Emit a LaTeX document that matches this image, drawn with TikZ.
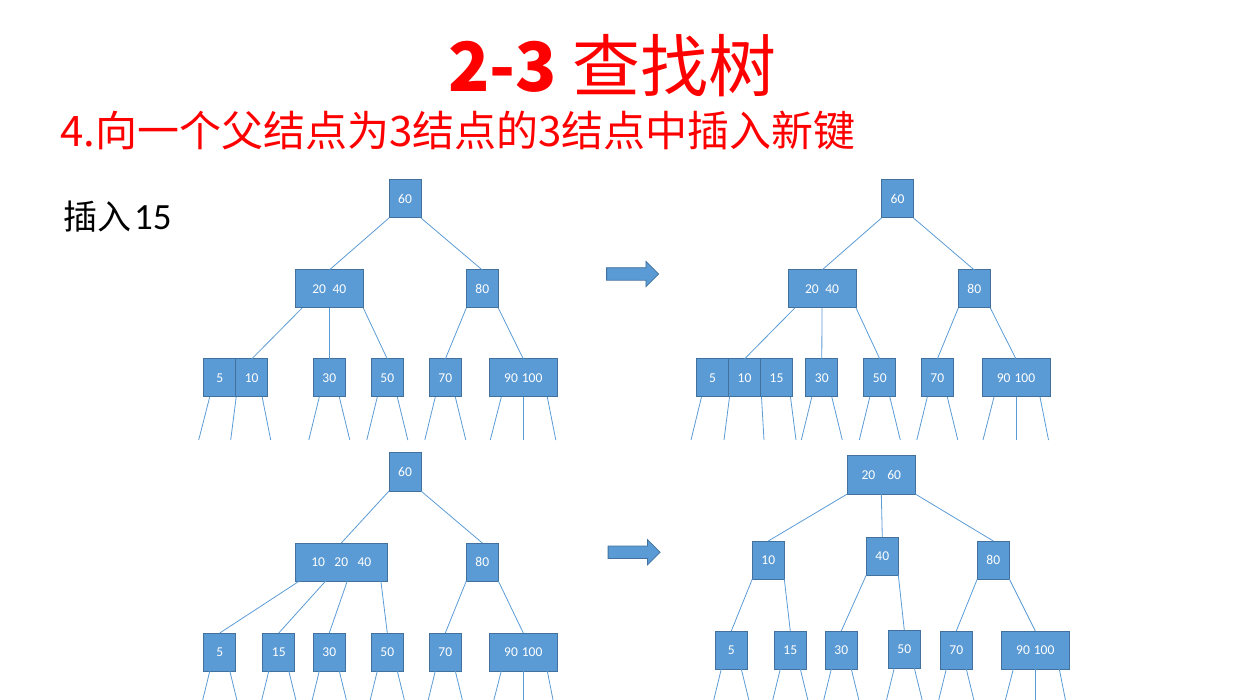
\documentclass[tikz,border=0pt]{standalone}
\usepackage{fontspec}
\setmainfont{Carlito}
\newfontfamily\cjkfont{Noto Sans CJK SC}
\usetikzlibrary{positioning, calc, shapes.arrows}
\definecolor{keyBlue}{HTML}{5B9BD5}
\definecolor{keyEdge}{HTML}{41719C}
\definecolor{titleRed}{HTML}{FF0000}
\newcommand{\stub}[3]{\draw[link] ($(#1.south)+(#2,0)$) -- ++(#3,43);}

\begin{document}
\begin{tikzpicture}[
  x=1pt, y=-1pt,
  every node/.style={font=\fontsize{13.5}{15}\selectfont},
  keybox/.style={
    rectangle, draw=keyEdge, line width=1pt,
    fill=keyBlue, text=white,
    minimum width=#1, minimum height=38pt,
    inner sep=0pt, outer sep=0pt
  },
  keybox/.default=32pt,
  link/.style={draw=keyBlue, line width=0.8pt},
  fatarrow/.style={
    single arrow, draw=keyEdge, fill=keyBlue, line width=0.8pt,
    minimum height=52pt, inner xsep=0pt, inner ysep=5.85pt,
    single arrow head extend=6.45pt, single arrow tip angle=90
  },
]
\useasboundingbox (0,0) rectangle (1248,700);
\clip (0,0) rectangle (1248,700);

% Titles
\node[anchor=base west, inner sep=0pt, text=titleRed,
  font=\fontsize{68}{80}\selectfont\cjkfont] (title) at (448,92) {{\bfseries 2-3} 查找树};
\node[anchor=base west, inner sep=0pt, text=titleRed,
  font=\fontsize{42}{50}\selectfont\cjkfont] (subtitle) at (60,147) {4.向一个父结点为3结点的3结点中插入新键};
\node[anchor=base west, inner sep=0pt,
  font=\fontsize{34}{40}\selectfont] (insertlabel) at (63,229.5) {{\cjkfont 插入}\hspace{3pt}{\fontsize{37}{40}\selectfont 15}};

% Tree A: before insert
\node[keybox] (a60) at (405,199) {60};
\node[keybox=68pt] (a2040) at (329.3,289) {20\hspace{6.5pt}40};
\node[keybox] (a80) at (482.3,289) {80};
\node[keybox] (a5) at (219.7,378) {5};
\node[keybox, right=0pt of a5] (a10) {10};
\node[keybox] (a30) at (329.3,378) {30};
\node[keybox] (a50) at (387.3,378) {50};
\node[keybox] (a70) at (445.3,378) {70};
\node[keybox=68pt] (a90) at (523.3,378) {90\hspace{4pt}100};

% Tree B: 15 joins the leaf
\node[keybox] (b60) at (897.5,199) {60};
\node[keybox=68pt] (b2040) at (822,289) {20\hspace{6.5pt}40};
\node[keybox] (b80) at (974.3,289) {80};
\node[keybox] (b5) at (712.5,378) {5};
\node[keybox, right=0pt of b5] (b10) {10};
\node[keybox, right=0pt of b10] (b15) {15};
\node[keybox] (b30) at (821.8,378) {30};
\node[keybox] (b50) at (879.8,378) {50};
\node[keybox] (b70) at (937.3,378) {70};
\node[keybox=68pt] (b90) at (1016,378) {90\hspace{4pt}100};

% Tree C: 10 moves up
\node[keybox] (c60) at (405,472) {60};
\node[keybox=92pt] (c1020) at (341.3,562) {10\hspace{9.5pt}20\hspace{9.5pt}40};
\node[keybox] (c80) at (482.3,562) {80};
\node[keybox] (c5) at (219.8,652) {5};
\node[keybox] (c15) at (278.8,652) {15};
\node[keybox] (c30) at (329.3,652) {30};
\node[keybox] (c50) at (387.3,652) {50};
\node[keybox] (c70) at (445.3,652) {70};
\node[keybox=68pt] (c90) at (523.3,652) {90\hspace{4pt}100};

% Tree D: 20 moves up
\node[keybox=68pt] (d2060) at (881.3,475) {20\hspace{12pt}60};
\node[keybox] (d10) at (768.3,560) {10};
\node[keybox] (d40) at (882.3,556) {40};
\node[keybox] (d80) at (993.3,560) {80};
\node[keybox] (d5) at (731.3,650) {5};
\node[keybox] (d15) at (790.3,650) {15};
\node[keybox] (d30) at (841.3,650) {30};
\node[keybox] (d50) at (904.3,649) {50};
\node[keybox] (d70) at (956.3,650) {70};
\node[keybox=68pt] (d90) at (1035.3,650) {90\hspace{4pt}100};

% Arrows
\node[fatarrow] (stepA) at (629.5,274) {};
\node[fatarrow] (stepB) at (631,552.3) {};

% Links
\foreach \tr in {a,b} {
  \draw[link] (\tr60.south west) -- (\tr2040.north);
  \draw[link] (\tr60.south east) -- (\tr80.north);
  \draw[link] ($(\tr2040.south west)!.1!(\tr2040.south east)$) -- (\tr10.north);
  \draw[link] (\tr2040.south) -- (\tr30.north);
  \draw[link] (\tr2040.south east) -- (\tr50.north);
}
\foreach \tr in {a,b,c} {
  \draw[link] (\tr80.south west) -- (\tr70.north);
  \draw[link] (\tr80.south east) -- (\tr90.north);
}
\draw[link] (c60.south west) -- (c1020.north);
\draw[link] (c60.south east) -- (c80.north);
\foreach \f/\n in {.045/c5, .33/c15, .565/c30, .93/c50} {
  \draw[link] ($(c1020.south west)!\f!(c1020.south east)$) -- (\n.north);
}
\draw[link] (d2060.south west) -- (d10.north);
\draw[link] (d2060.south) -- (d40.north);
\draw[link] (d2060.south east) -- (d80.north);
\foreach \p/\l/\r in {d10/d5/d15, d40/d30/d50, d80/d70/d90} {
  \draw[link] (\p.south west) -- (\l.north);
  \draw[link] (\p.south east) -- (\r.north);
}

% Stubs
\foreach \n in {a30,a50,a70,b30,b50,b70,c5,c15,c30,c50,c70,d5,d15,d30,d50,d70} {
  \stub{\n}{-10}{-10.5}
  \stub{\n}{10}{10.5}
}
\foreach \n in {a90,b90,c90,d90} {
  \stub{\n}{-22}{-11}
  \stub{\n}{0}{0}
  \stub{\n}{24}{8.5}
}
\foreach \n/\o/\d in {a5/-10/-11, a10/-15.5/-5.5, a10/10.5/8.5,
  b5/-11/-10.5, b10/-15/-5.5, b15/-15/2.5, b15/14/5.5} {
  \stub{\n}{\o}{\d}
}

\end{tikzpicture}
\end{document}
